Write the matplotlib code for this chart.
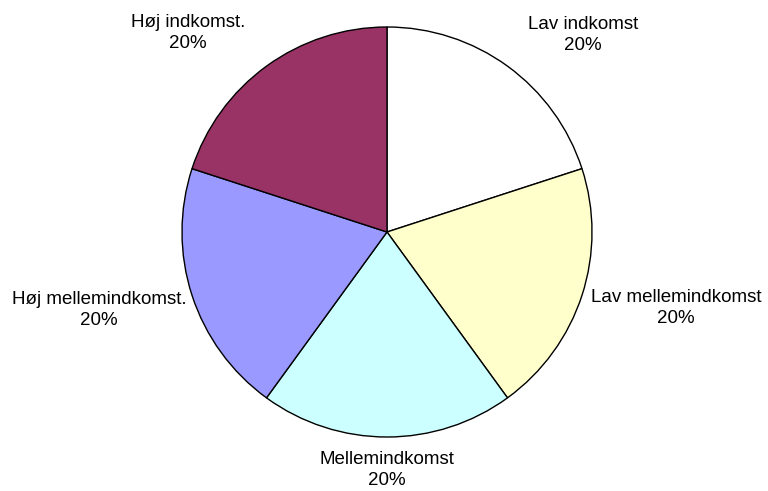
import matplotlib.pyplot as plt

# Data
categories = ['Lav indkomst', 'Lav mellemindkomst', 'Mellemindkomst',
              'Høj mellemindkomst.', 'Høj indkomst.']
shares = [20, 20, 20, 20, 20]
colors = ['#FFFFFF', '#FFFFCC', '#CCFFFF', '#9999FF', '#993366']

# label positions (in pie radius units), Excel-style layout
label_pos = [(0.956, 0.961), (1.41, -0.371), (0.0, -1.16),
             (-1.405, -0.38), (-0.971, 0.971)]

plt.rcParams['font.family'] = ['Liberation Sans', 'DejaVu Sans']

fig = plt.figure(figsize=(7.68, 4.91), dpi=100)
ax = fig.add_axes([0, 0, 1, 1])

wedges, texts = ax.pie(shares, colors=colors, startangle=90, counterclock=False,
                       radius=1.0, labels=[f'{c}\n{s}%' for c, s in zip(categories, shares)],
                       wedgeprops=dict(edgecolor='black', linewidth=1.0),
                       textprops=dict(fontsize=13.5, ha='center', va='center',
                                      linespacing=1.35))
for t, (x, y) in zip(texts, label_pos):
    t.set_position((x, y))
    t.set_ha('center')
    t.set_va('center')

r = 205.0
ax.set_xlim(-387 / r, (768 - 387) / r)
ax.set_ylim(-(491 - 232) / r, 232 / r)
ax.set_aspect('equal')
ax.axis('off')

fig.savefig('out.png', dpi=100, facecolor='white')
